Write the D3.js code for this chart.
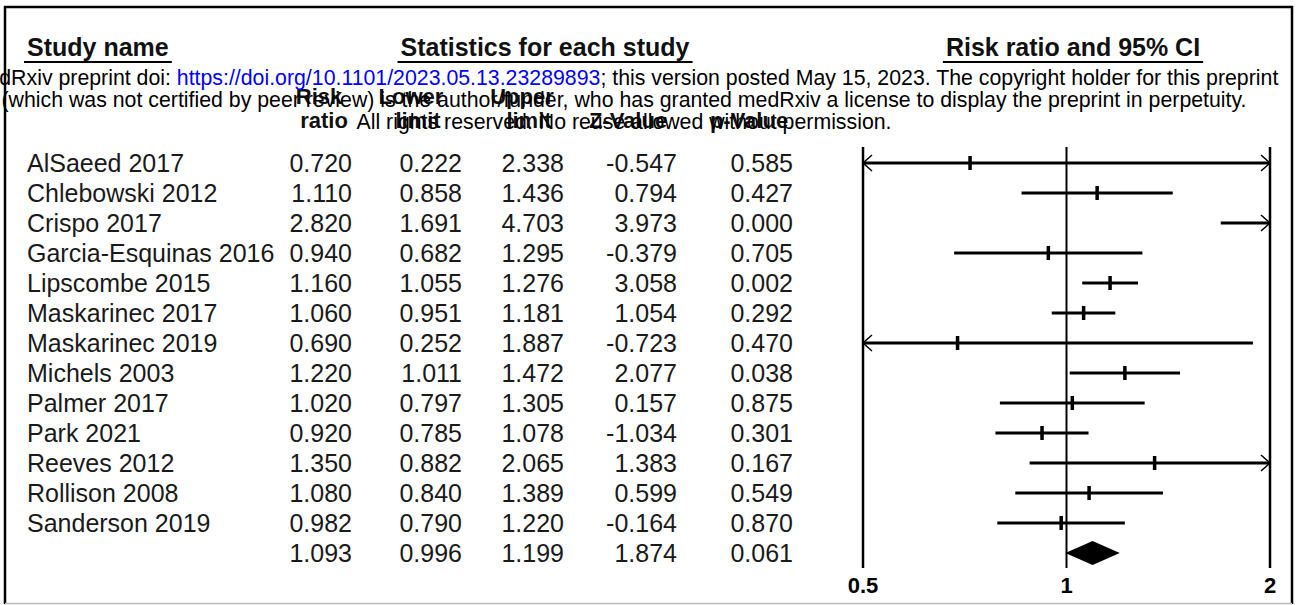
<!DOCTYPE html>
<html>
<head>
<meta charset="utf-8">
<script src="https://cdn.jsdelivr.net/npm/d3@7"></script>
<style>
  body { margin: 0; background: #fff; }
  svg { display: block; font-family: "Liberation Sans", Arial, sans-serif; }
</style>
</head>
<body>
<svg width="1299" height="605"></svg>
<script>
// study rows
var studies = ["AlSaeed 2017", "Chlebowski 2012", "Crispo 2017", "Garcia-Esquinas 2016", "Lipscombe 2015",
  "Maskarinec 2017", "Maskarinec 2019", "Michels 2003", "Palmer 2017", "Park 2021", "Reeves 2012",
  "Rollison 2008", "Sanderson 2019"];
var riskRatio = [0.720, 1.110, 2.820, 0.940, 1.160, 1.060, 0.690, 1.220, 1.020, 0.920, 1.350, 1.080, 0.982];
var lowerLimit = [0.222, 0.858, 1.691, 0.682, 1.055, 0.951, 0.252, 1.011, 0.797, 0.785, 0.882, 0.840, 0.790];
var upperLimit = [2.338, 1.436, 4.703, 1.295, 1.276, 1.181, 1.887, 1.472, 1.305, 1.078, 2.065, 1.389, 1.220];
var zValue = [-0.547, 0.794, 3.973, -0.379, 3.058, 1.054, -0.723, 2.077, 0.157, -1.034, 1.383, 0.599, -0.164];
var pValue = [0.585, 0.427, 0.000, 0.705, 0.002, 0.292, 0.470, 0.038, 0.875, 0.301, 0.167, 0.549, 0.870];
// pooled estimate
var summary = {rr: 1.093, lower: 0.996, upper: 1.199, z: 1.874, p: 0.061};
var axisTicks = [0.5, 1, 2];
var colHeads = [["Risk", "ratio"], ["Lower", "limit"], ["Upper", "limit"], ["", "Z-Value"], ["", "p-Value"]];

var svg = d3.select("svg");
var fmt = function(v) { return d3.format(".3f")(v).replace("\u2212", "-"); };

var x = d3.scaleLog().domain([0.5, 2]).range([863, 1270]);
var rows = studies.map(function(s, i) { return i; }).concat([studies.length]);
var y = d3.scalePoint().domain(rows).range([163, 553]);

// frame
svg.append("path").attr("d", "M5,604 L5,7 L1292,7 L1292,604")
  .attr("fill", "none").attr("stroke", "#000").attr("stroke-width", 2.5);
svg.append("line").attr("x1", 5).attr("x2", 1292).attr("y1", 603.5).attr("y2", 603.5)
  .attr("stroke", "#bbb").attr("stroke-width", 1.5);

// big headers with underline
var heads = [
  {t: "Study name", x: 27, anchor: "start"},
  {t: "Statistics for each study", x: 545, anchor: "middle"},
  {t: "Risk ratio and 95% CI", x: 1073, anchor: "middle"}
];
heads.forEach(function(h) {
  var t = svg.append("text").attr("x", h.x).attr("y", 56).attr("text-anchor", h.anchor)
    .attr("font-size", 25).attr("font-weight", "bold").attr("fill", "#111").text(h.t);
  var bb = t.node().getBBox();
  svg.append("line").attr("x1", bb.x - 3).attr("x2", bb.x + bb.width + 3)
    .attr("y1", 62).attr("y2", 62).attr("stroke", "#000").attr("stroke-width", 2);
});

// column headers (centres)
var colX = [352, 462, 564, 677, 793];
var headX = [[319, 324], [411, 418], [522, 529], [0, 628], [0, 749]];
colHeads.forEach(function(h, j) {
  svg.append("text").attr("x", headX[j][0]).attr("y", 104).attr("text-anchor", "middle")
    .attr("font-size", 22).attr("font-weight", "bold").attr("fill", "#111").text(h[0]);
  svg.append("text").attr("x", headX[j][1]).attr("y", 128).attr("text-anchor", "middle")
    .attr("font-size", 22).attr("font-weight", "bold").attr("fill", "#111").text(h[1]);
});

// watermark
var wm = svg.append("g").attr("font-size", 21.3).attr("text-anchor", "middle");
var l1 = wm.append("text").attr("x", 624).attr("y", 85);
l1.append("tspan").text("medRxiv preprint doi: ");
l1.append("tspan").attr("fill", "#0000ff").text("https://doi.org/10.1101/2023.05.13.23289893");
l1.append("tspan").text("; this version posted May 15, 2023. The copyright holder for this preprint");
wm.append("text").attr("x", 624).attr("y", 107)
  .text("(which was not certified by peer review) is the author/funder, who has granted medRxiv a license to display the preprint in perpetuity.");
wm.append("text").attr("x", 624).attr("y", 129).text("All rights reserved. No reuse allowed without permission.");

// table rows
var tbl = svg.append("g").attr("font-size", 25).attr("fill", "#1a1a1a");
studies.forEach(function(s, i) {
  var yy = y(i) + 9;
  tbl.append("text").attr("x", 27).attr("y", yy).text(s);
  [riskRatio[i], lowerLimit[i], upperLimit[i], zValue[i], pValue[i]].forEach(function(v, j) {
    tbl.append("text").attr("x", colX[j]).attr("y", yy).attr("text-anchor", "end").text(fmt(v));
  });
});
[summary.rr, summary.lower, summary.upper, summary.z, summary.p].forEach(function(v, j) {
  tbl.append("text").attr("x", colX[j]).attr("y", y(studies.length) + 9).attr("text-anchor", "end").text(fmt(v));
});

// plot: reference lines
var plot = svg.append("g");
axisTicks.forEach(function(t) {
  plot.append("line").attr("x1", x(t)).attr("x2", x(t)).attr("y1", 147).attr("y2", 568)
    .attr("stroke", "#000").attr("stroke-width", t === 1 ? 2 : 2.5);
  plot.append("text").attr("x", x(t)).attr("y", 593).attr("text-anchor", "middle")
    .attr("font-size", 22).attr("font-weight", "bold").text(t);
});

// CI lines
var lo = x.domain()[0], hi = x.domain()[1];
studies.forEach(function(s, i) {
  var yy = y(i);
  var a = Math.max(lowerLimit[i], lo), b = Math.min(upperLimit[i], hi);
  plot.append("line").attr("x1", x(a)).attr("x2", x(b)).attr("y1", yy).attr("y2", yy)
    .attr("stroke", "#000").attr("stroke-width", 3);
  if (lowerLimit[i] < lo) {
    plot.append("path").attr("d", "M" + (x(lo) + 9) + "," + (yy - 8) + " L" + x(lo) + "," + yy + " L" + (x(lo) + 9) + "," + (yy + 8))
      .attr("fill", "none").attr("stroke", "#000").attr("stroke-width", 1.5);
  }
  if (upperLimit[i] > hi) {
    plot.append("path").attr("d", "M" + (x(hi) - 9) + "," + (yy - 8) + " L" + x(hi) + "," + yy + " L" + (x(hi) - 9) + "," + (yy + 8))
      .attr("fill", "none").attr("stroke", "#000").attr("stroke-width", 1.5);
  }
  if (riskRatio[i] >= lo && riskRatio[i] <= hi) {
    plot.append("line").attr("x1", x(riskRatio[i])).attr("x2", x(riskRatio[i]))
      .attr("y1", yy - 7).attr("y2", yy + 7).attr("stroke", "#000").attr("stroke-width", 3.5);
  }
});

// pooled diamond
var ys = y(studies.length);
plot.append("path")
  .attr("d", "M" + x(summary.lower) + "," + ys + " L" + x(summary.rr) + "," + (ys - 12) +
    " L" + x(summary.upper) + "," + ys + " L" + x(summary.rr) + "," + (ys + 12) + " Z")
  .attr("fill", "#000");
</script>
</body>
</html>
